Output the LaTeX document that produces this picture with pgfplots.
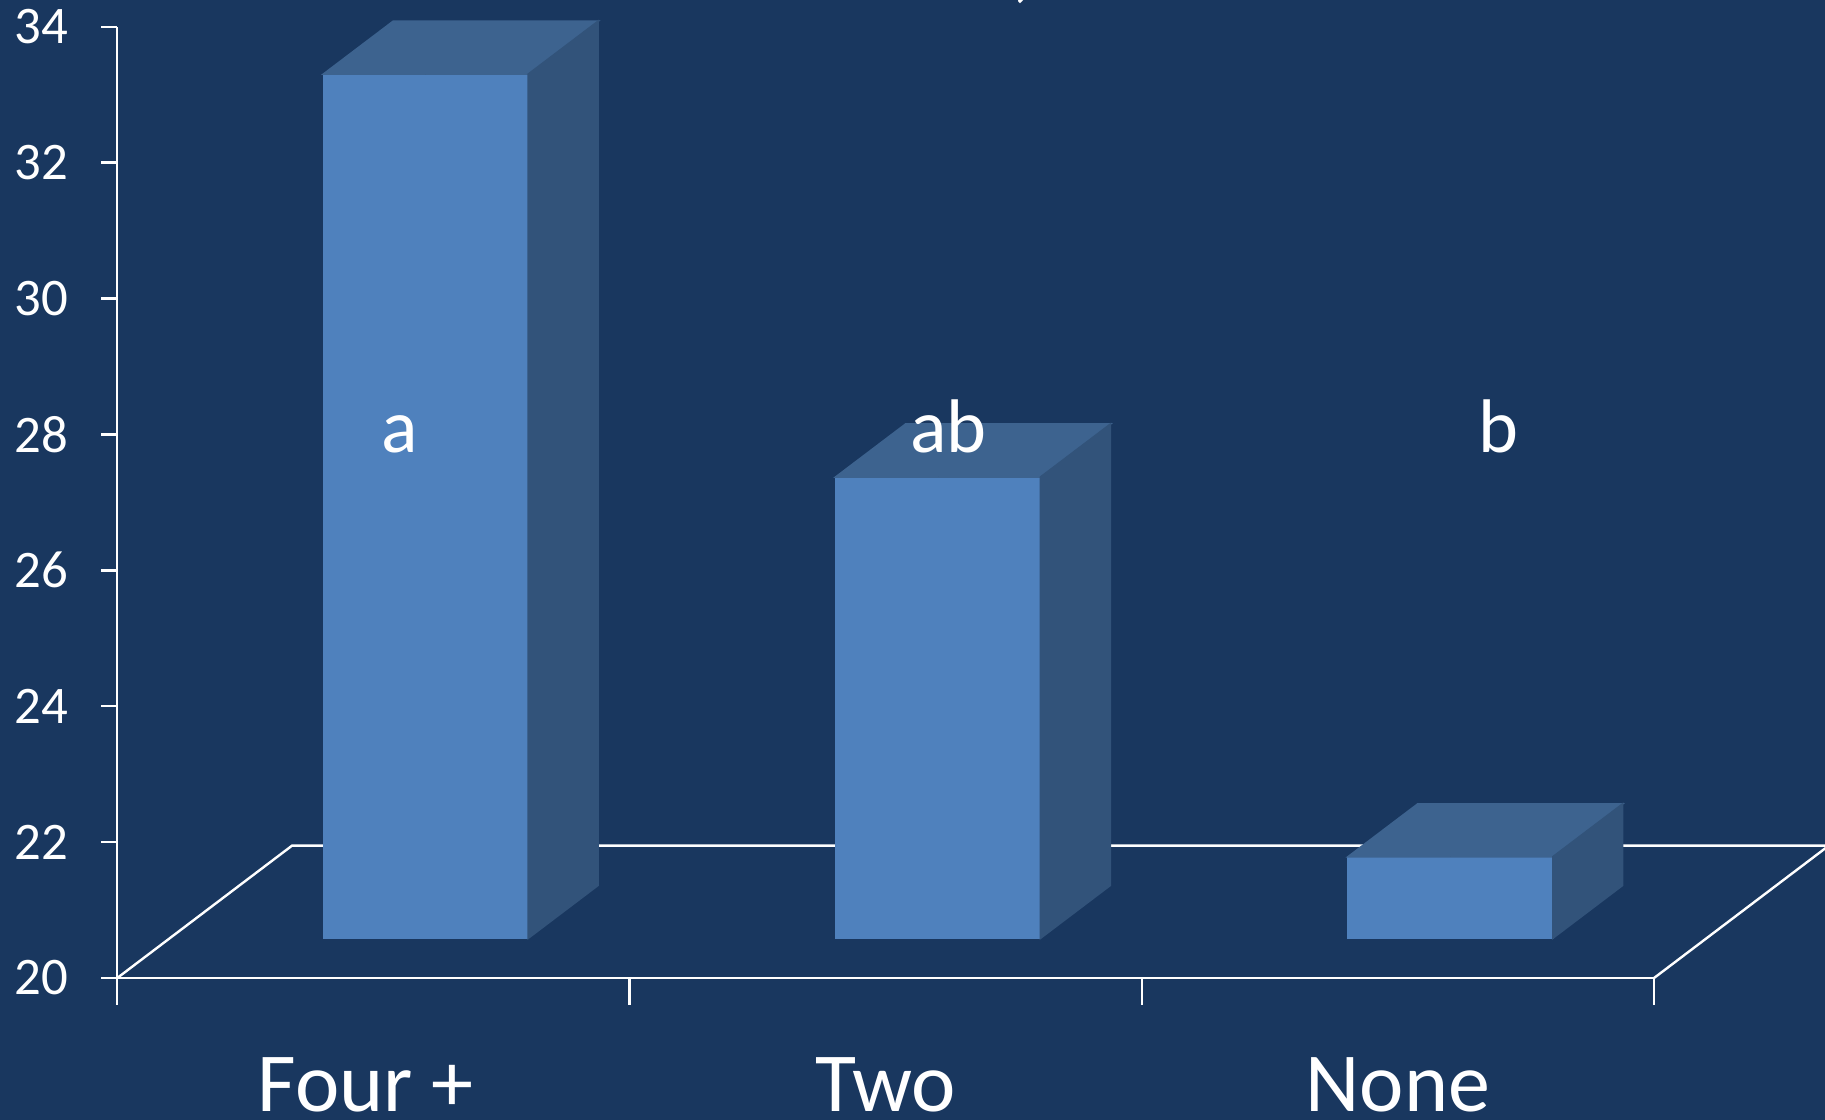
\documentclass[border=0pt]{standalone}
\usepackage{pgfplots}
\pgfplotsset{compat=1.18}
\usepackage{pgfplotstable}
\usepackage{fontspec}
\setmainfont{Carlito}

\definecolor{bg}{RGB}{25,55,95}
\definecolor{barfront}{RGB}{79,129,189}
\definecolor{bartop}{RGB}{61,99,143}
\definecolor{barside}{RGB}{50,83,122}

% mean value per group
\pgfplotstableread{
pos value
0 32.72
1 26.79
2 21.20
}\groupdata

% oblique projection of the depth axis (x in category units, y in value units)
\def\DX{0.341}
\def\DY{1.947}
\def\HW{0.2}  % half width of a column
\def\DF{0.3}  % depth at which the front face sits
\def\DB{0.4}  % depth of a column

\begin{document}
\begin{tikzpicture}
\useasboundingbox (-29.325pt,-35.5pt) rectangle (426.925pt,244.5pt);
\fill[bg] (-29.325pt,-35.5pt) rectangle (426.925pt,244.5pt);
\clip (-29.325pt,-35.5pt) rectangle (426.925pt,244.5pt);
\begin{axis}[
  at={(0,0)}, anchor=south west,
  scale only axis, width=384.2pt, height=237.8pt,
  xmin=-0.5, xmax=2.5, ymin=20, ymax=34,
  clip=false,
  axis x line*=bottom, axis y line*=left,
  axis line style={white, line width=0.6pt},
  ytick={20,22,...,34},
  xtick=\empty,
  tick style={white, line width=0.6pt},
  tick align=outside,
  major tick length=4pt,
  /pgf/number format/assume math mode=true,
  yticklabel style={font=\fontsize{13.2}{15}\selectfont, text=white, xshift=-4.7pt},
]
% floor of the 3-D plot
\draw[white, line width=0.6pt]
  (axis cs:-0.5,20) -- (axis cs:{-0.5+\DX},{20+\DY})
  -- (axis cs:{2.5+\DX},{20+\DY}) -- (axis cs:2.5,20);
% category separators below the floor
\draw[white, line width=0.6pt] (axis cs:-0.5,20) -- ([yshift=-6.75pt]axis cs:-0.5,20);
\draw[white, line width=0.6pt] (axis cs:0.5,20) -- ([yshift=-6.75pt]axis cs:0.5,20);
\draw[white, line width=0.6pt] (axis cs:1.5,20) -- ([yshift=-6.75pt]axis cs:1.5,20);
\draw[white, line width=0.6pt] (axis cs:2.5,20) -- ([yshift=-6.75pt]axis cs:2.5,20);

% columns: each point is the top centre of the front face
\addplot[
  scatter, only marks, mark=*, mark size=0pt,
  mark options={draw=none, fill=none},
  visualization depends on={\thisrow{value}-20 \as \barh},
  scatter/@pre marker code/.code={%
    \fill[barfront] (axis direction cs:{-\HW},0) rectangle (axis direction cs:{\HW},{-\barh});
    \fill[bartop] (axis direction cs:{-\HW},0) -- (axis direction cs:{\HW},0)
      -- (axis direction cs:{\HW+\DB*\DX},{\DB*\DY})
      -- (axis direction cs:{-\HW+\DB*\DX},{\DB*\DY}) -- cycle;
    \fill[barside] (axis direction cs:{\HW},0) -- (axis direction cs:{\HW},{-\barh})
      -- (axis direction cs:{\HW+\DB*\DX},{-\barh+\DB*\DY})
      -- (axis direction cs:{\HW+\DB*\DX},{\DB*\DY}) -- cycle;
  },
  scatter/@post marker code/.code={},
] table[x expr={\thisrow{pos}+\DF*\DX}, y expr={\thisrow{value}+\DF*\DY}] {\groupdata};

% anchor points for the texts set on top of the columns
\coordinate (la) at (axis cs:0.051,27.73);
\coordinate (lab) at (axis cs:1.122,27.73);
\coordinate (lb) at (axis cs:2.197,27.73);
\coordinate (c0) at (axis cs:-0.015,20);
\coordinate (c1) at (axis cs:1,20);
\coordinate (c2) at (axis cs:2,20);
\end{axis}

% significance letters
\begin{scope}[every node/.style={anchor=base, text=white, font=\fontsize{19}{22}\selectfont}]
\node at (la) {a};
\node at (lab) {ab};
\node at (lb) {b};
\end{scope}

% category names
\begin{scope}[every node/.style={anchor=base, text=white, inner sep=0pt, text depth=0pt, font=\fontsize{21}{25}\selectfont, yshift=-33.5pt}]
\node at (c0) {Four +};
\node at (c1) {Two};
\node at (c2) {None};
\end{scope}

% tail of the title line above the plot
\node[anchor=base, text=white, font=\fontsize{24}{28}\selectfont] at (226.5pt,246.6pt) {,};
\end{tikzpicture}
\end{document}
